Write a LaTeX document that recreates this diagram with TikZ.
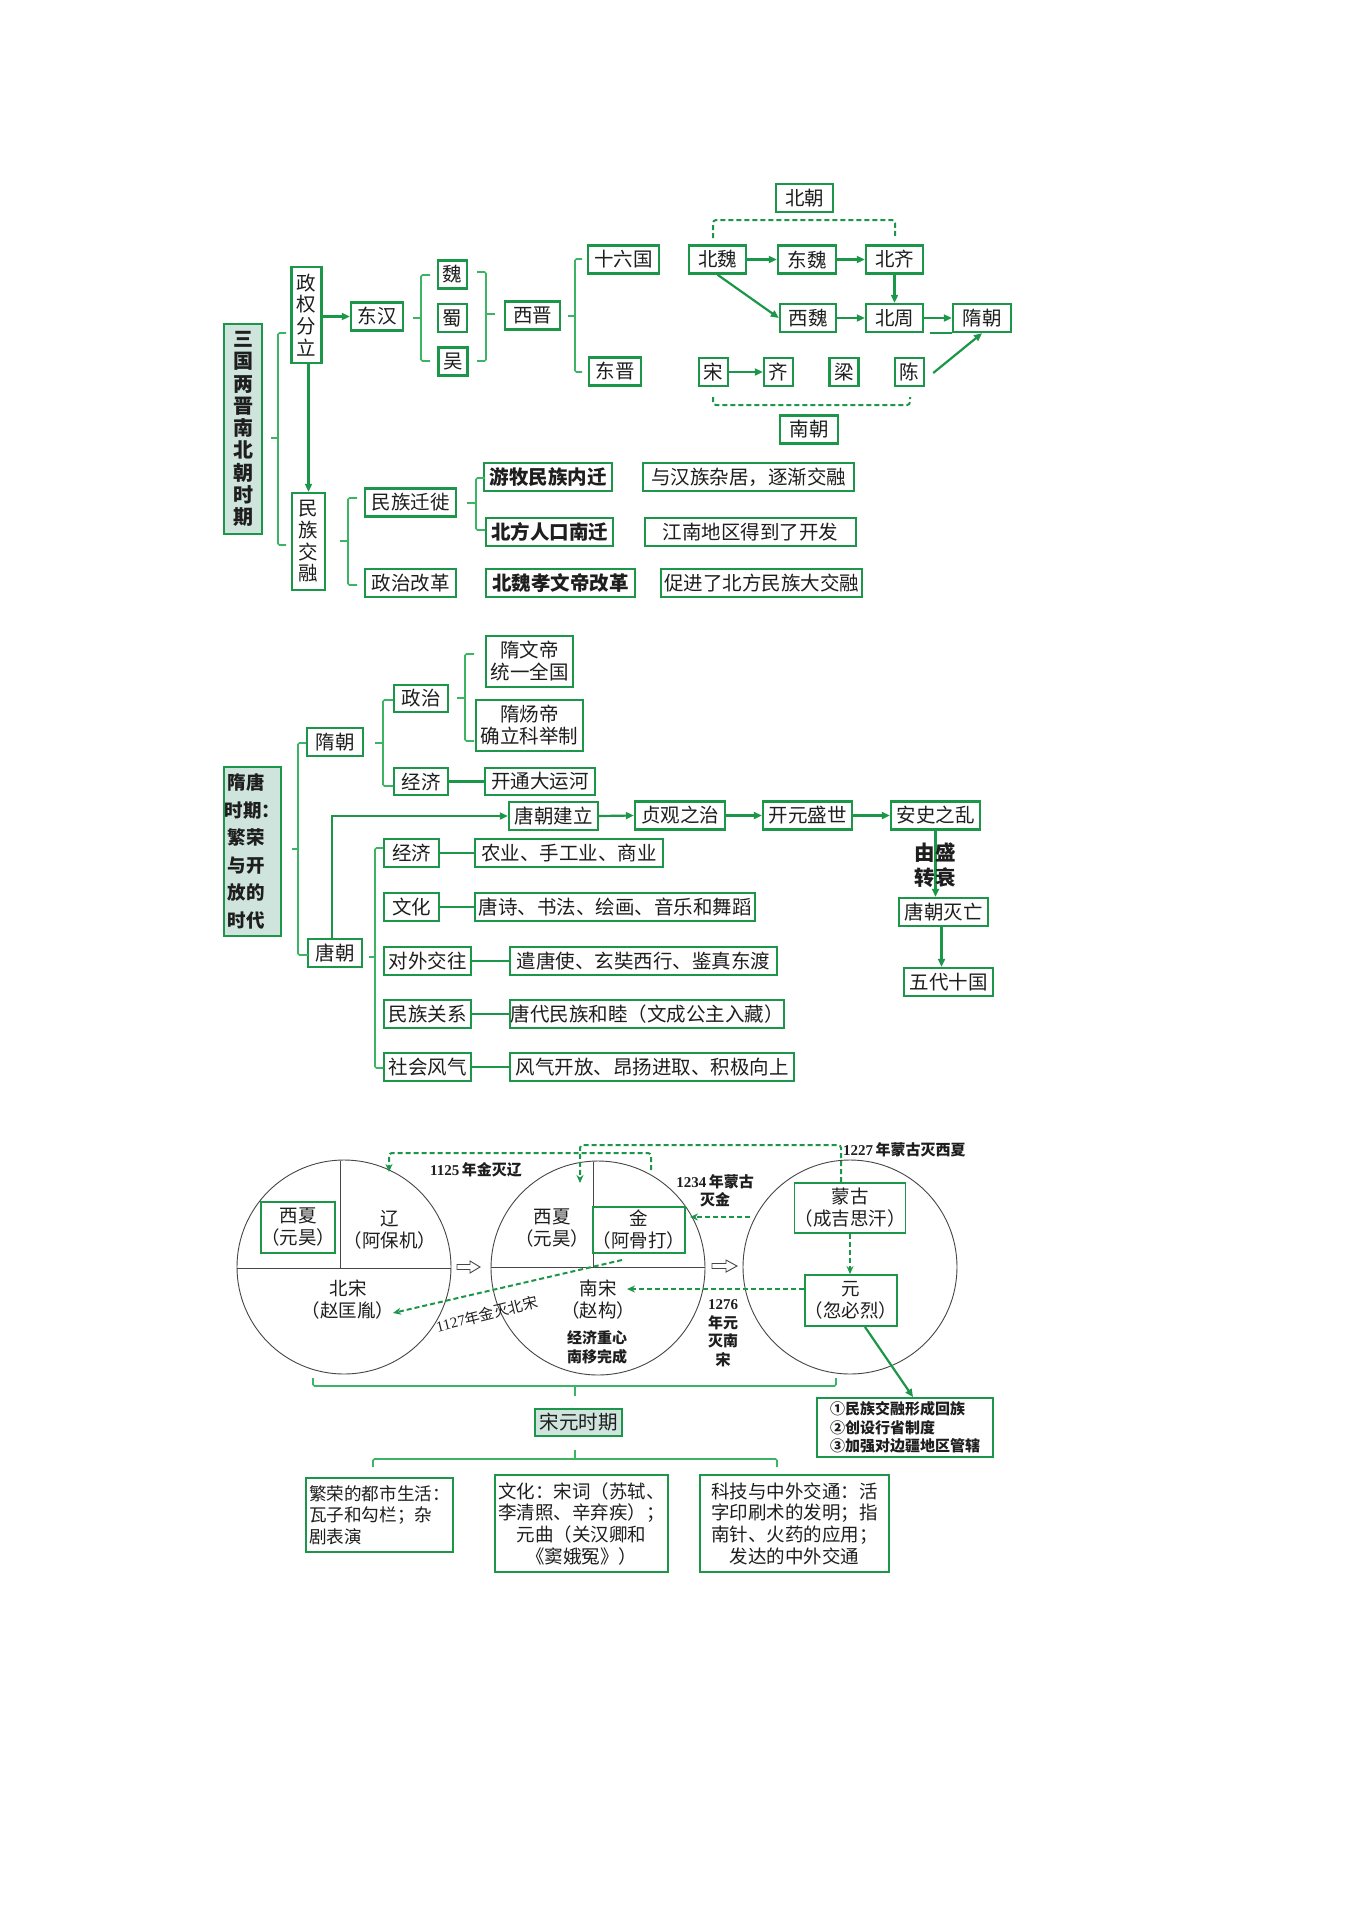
\documentclass[tikz,border=0pt]{standalone}
\usepackage{fontspec}
\setmainfont{Noto Sans CJK SC}
\newfontfamily\tnr{Liberation Serif}
\usetikzlibrary{arrows.meta}
\definecolor{gr}{RGB}{28,150,72}
\definecolor{gl}{RGB}{60,180,100}
\definecolor{tealf}{RGB}{206,228,220}
\definecolor{ink}{RGB}{30,30,30}
\definecolor{cline}{RGB}{70,70,70}
\newcommand\fA{\fontsize{19.5}{22}\selectfont}
\newcommand\fC{\fontsize{18.5}{22}\selectfont}
\newcommand\fB{\fontsize{18.5}{21.7}\selectfont}
\newcommand\fS{\fontsize{15}{18.5}\selectfont}
\begin{document}
\begin{tikzpicture}[x=1pt,y=-1pt,
  bx/.style={draw=gr, line width=2.4pt, fill=white, inner sep=0pt, text=ink, font=\fA, align=center},
  bbx/.style={bx, font=\fA\bfseries},
  tbx/.style={bx, fill=tealf},
  sbx/.style={bx, line width=1.9pt, font=\fC},
  br/.style={draw=gl, line width=1.6pt, rounded corners=1.5pt},
  ln/.style={draw=gr, line width=2.2pt},
  arr/.style={draw=gr, line width=2.2pt, -{Triangle[length=8pt,width=7pt]}},
  dsh/.style={draw=gr, line width=2pt, dash pattern=on 5pt off 3pt, rounded corners=3pt, -{Stealth[length=8pt,width=7pt]}},
  dln/.style={draw=gr, line width=2pt, dash pattern=on 5pt off 3pt, rounded corners=3pt},
  circ/.style={draw=cline, line width=0.9pt},
  txt/.style={inner sep=0pt, text=ink, font=\fC, align=center},
  lbl/.style={inner sep=0pt, text=ink, font=\fS\bfseries, align=center}
]
\fill[white] (0,0) rectangle (1362,1920);
\useasboundingbox (0,0) rectangle (1362,1920);

%================ Section 1 ================
\node[tbx, font=\fontsize{20}{22.3}\selectfont\bfseries, minimum width=38pt, minimum height=210pt] (t1) at (243,429) {三\\国\\两\\晋\\南\\北\\朝\\时\\期};
\node[bx, font=\fontsize{19.5}{21.7}\selectfont, minimum width=30pt, minimum height=96pt] (zq) at (306.5,315) {政\\权\\分\\立};
\node[bx, font=\fontsize{19.5}{21.7}\selectfont, minimum width=33pt, minimum height=97pt] (mz) at (308.5,541.5) {民\\族\\交\\融};
\node[bx, minimum width=52pt, minimum height=28pt] (dh) at (377,316.5) {东汉};
\node[bx, minimum width=29pt, minimum height=28pt] (wei) at (452.5,274.5) {魏};
\node[bx, minimum width=29pt, minimum height=28pt] (shu) at (452.5,318) {蜀};
\node[bx, minimum width=29pt, minimum height=28pt] (wu) at (453,361.5) {吴};
\node[bx, minimum width=55pt, minimum height=28pt] (xj) at (532.5,315.5) {西晋};
\node[bx, minimum width=71pt, minimum height=28pt] (sl) at (623.5,259.5) {十六国};
\node[bx, minimum width=52pt, minimum height=28pt] (dj) at (615,371.5) {东晋};
\node[bx, minimum width=57pt, minimum height=28pt] (bc) at (804.5,198) {北朝};
\node[bx, minimum width=57pt, minimum height=28pt] (bw) at (717.5,259.5) {北魏};
\node[bx, minimum width=58pt, minimum height=28pt] (dw) at (807,259.5) {东魏};
\node[bx, minimum width=57pt, minimum height=28pt] (bq) at (894.5,259.5) {北齐};
\node[bx, minimum width=56pt, minimum height=28pt] (xw) at (808,318) {西魏};
\node[bx, minimum width=57pt, minimum height=28pt] (bz) at (894.5,318) {北周};
\node[bx, minimum width=58pt, minimum height=28pt] (sc) at (982,318) {隋朝};
\node[bx, minimum width=29pt, minimum height=28pt] (song) at (713.5,372) {宋};
\node[bx, minimum width=29pt, minimum height=28pt] (qi) at (778.5,372) {齐};
\node[bx, minimum width=29pt, minimum height=28pt] (liang) at (844,372) {梁};
\node[bx, minimum width=29pt, minimum height=28pt] (chen) at (909.5,372) {陈};
\node[bx, minimum width=58pt, minimum height=28pt] (nc) at (809,429.5) {南朝};
\node[bx, minimum width=91pt, minimum height=28pt] (mzqx) at (410.5,502.5) {民族迁徙};
\node[bx, minimum width=91pt, minimum height=28pt] (zzgg) at (410.5,583) {政治改革};
\node[bbx, minimum width=128pt, minimum height=28pt] (ym) at (548,477) {游牧民族内迁};
\node[bbx, minimum width=127pt, minimum height=28pt] (bf) at (549.5,532) {北方人口南迁};
\node[bbx, minimum width=149pt, minimum height=28pt] (xwgg) at (560.5,583) {北魏孝文帝改革};
\node[bx, minimum width=211pt, minimum height=28pt] (r1) at (748.5,477) {与汉族杂居，逐渐交融};
\node[bx, minimum width=211pt, minimum height=28pt] (r2) at (750.5,532) {江南地区得到了开发};
\node[bx, minimum width=201pt, minimum height=28pt] (r3) at (761.5,583) {促进了北方民族大交融};

% braces
\draw[br] (286,333) -- (278,333) -- (278,545) -- (286,545);
\draw[br] (271,438) -- (278,438);
\draw[br] (430,275) -- (421,275) -- (421,361) -- (430,361);
\draw[br] (413,318) -- (421,318);
\draw[br] (477,272) -- (486,272) -- (486,361) -- (477,361);
\draw[br] (486,314) -- (495,314);
\draw[br] (582,259) -- (575,259) -- (575,372) -- (582,372);
\draw[br] (568,316) -- (575,316);
\draw[br] (357,498) -- (348,498) -- (348,585) -- (357,585);
\draw[br] (340,541) -- (348,541);
\draw[br] (485,478) -- (476,478) -- (476,530) -- (485,530);
\draw[br] (467,503) -- (476,503);

% arrows
\draw[arr] (zq.east |- dh.west) -- (dh.west);
\draw[arr] (mz.north |- zq.south) -- (mz.north);
\draw[arr] (bw.east) -- (dw.west);
\draw[arr] (dw.east) -- (bq.west);
\draw[arr] (bq.south) -- (bz.north);
\draw[arr] (bw.south) -- (xw.west);
\draw[arr] (xw.east) -- (bz.west);
\draw[arr] (bz.east) -- (sc.west);
\draw[ln] ([xshift=6pt]bz.south east) -- (sc.south west);
\draw[arr] (song.east) -- (qi.west);
\draw[arr] ([xshift=8pt,yshift=-1pt]chen.east) -- (sc.south);
\draw[dln] (713,238) -- (713,220) -- (895,220) -- (895,238);
\draw[dln] (713,397) -- (713,405) -- (910,405) -- (910,397);

%================ Section 2 ================
\node[tbx, font=\fontsize{18.5}{27.5}\selectfont\bfseries, align=left, minimum width=57pt, minimum height=169pt] (t2) at (252.5,851.5) {\hspace*{3pt}隋唐\\时期：\\\hspace*{3pt}繁荣\\\hspace*{3pt}与开\\\hspace*{3pt}放的\\\hspace*{3pt}时代};
\node[bx, minimum width=56pt, minimum height=28pt] (sui) at (335,742) {隋朝};
\node[bx, minimum width=54pt, minimum height=28pt] (tang) at (335,953) {唐朝};
\node[bx, minimum width=54pt, minimum height=27pt] (zz) at (421,698.5) {政治};
\node[bx, minimum width=54pt, minimum height=27pt] (jj1) at (421,781.5) {经济};
\node[bx, minimum width=87pt, minimum height=51pt] (swd) at (529.5,661.5) {隋文帝\\统一全国};
\node[bx, minimum width=107pt, minimum height=51pt] (syd) at (529.5,725.5) {隋炀帝\\确立科举制};
\node[bx, minimum width=110pt, minimum height=27pt] (ytd) at (540,781.5) {开通大运河};
\node[bx, minimum width=89pt, minimum height=28pt] (tcjl) at (553.5,816) {唐朝建立};
\node[bx, minimum width=90pt, minimum height=28pt] (zgzz) at (680,815.5) {贞观之治};
\node[bx, minimum width=89pt, minimum height=28pt] (kysh) at (807.5,815.5) {开元盛世};
\node[bx, minimum width=89pt, minimum height=28pt] (aszl) at (935.5,815.5) {安史之乱};
\node[bx, minimum width=89pt, minimum height=28pt] (tcmw) at (943.5,912) {唐朝灭亡};
\node[bx, minimum width=89pt, minimum height=28pt] (wdsg) at (948.5,982) {五代十国};
\node[bx, minimum width=55pt, minimum height=28pt] (tjj) at (411.5,853) {经济};
\node[bx, minimum width=188pt, minimum height=28pt] (nys) at (569,853) {农业、手工业、商业};
\node[bx, minimum width=55pt, minimum height=28pt] (twh) at (411.5,907) {文化};
\node[bx, minimum width=280pt, minimum height=28pt] (tsh) at (615,907) {唐诗、书法、绘画、音乐和舞蹈};
\node[bx, minimum width=87pt, minimum height=28pt] (dwjw) at (427.5,961) {对外交往};
\node[bx, minimum width=267pt, minimum height=28pt] (qts) at (643.5,961) {遣唐使、玄奘西行、鉴真东渡};
\node[bx, minimum width=87pt, minimum height=28pt] (mzgx) at (427.5,1014) {民族关系};
\node[bx, minimum width=274pt, minimum height=28pt] (tdmz) at (647,1014) {唐代民族和睦（文成公主入藏）};
\node[bx, minimum width=87pt, minimum height=28pt] (shfq) at (427.5,1067) {社会风气};
\node[bx, minimum width=284pt, minimum height=28pt] (fqkf) at (652,1067) {风气开放、昂扬进取、积极向上};

\draw[br] (306,743) -- (298,743) -- (298,955) -- (308,955);
\draw[br] (292,849) -- (298,849);
\draw[br] (393,700) -- (383,700) -- (383,786) -- (393,786);
\draw[br] (375,743) -- (383,743);
\draw[br] (474,654) -- (465,654) -- (465,741) -- (474,741);
\draw[br] (457,698) -- (465,698);
\draw[br] (383,848) -- (375,848) -- (375,1068) -- (383,1068);
\draw[br] (369,957) -- (375,957);

\draw[ln] (jj1.east) -- (ytd.west);
\draw[ln] (tjj.east) -- (nys.west);
\draw[ln] (twh.east) -- (tsh.west);
\draw[ln] (dwjw.east) -- (qts.west);
\draw[ln] (mzgx.east) -- (tdmz.west);
\draw[ln] (shfq.east) -- (fqkf.west);

\draw[arr] ([xshift=-3pt]tang.north) |- (tcjl.west);
\draw[arr] (tcjl.east) -- (zgzz.west);
\draw[arr] (zgzz.east) -- (kysh.west);
\draw[arr] (kysh.east) -- (aszl.west);
\draw[arr] (aszl.south) -- (aszl.south |- tcmw.north);
\draw[arr] ([xshift=-2pt]tcmw.south) -- ([xshift=-2pt]tcmw.south |- wdsg.north);
\node[txt, font=\fontsize{20.5}{25}\selectfont\bfseries] (ysz) at (935,865) {由盛\\转衰};

%================ Section 3 ================
\draw[circ] (344,1267) circle[radius=107pt];
\draw[circ] (598,1268) circle[radius=107pt];
\draw[circ] (850,1267) circle[radius=107pt];
\draw[circ] (237,1268) -- (451,1268);
\draw[circ] (340,1161) -- (340,1268);
\draw[circ] (491,1267) -- (705,1267);
\draw[circ] (593,1162) -- (593,1267);
\draw[circ] (457,1264.5) -- (470,1264.5) -- (470,1261) -- (480,1267) -- (470,1273) -- (470,1269.5) -- (457,1269.5) -- cycle;
\draw[circ] (712,1263.5) -- (726,1263.5) -- (726,1260) -- (737,1266) -- (726,1272) -- (726,1268.5) -- (712,1268.5) -- cycle;

\node[sbx, minimum width=70pt, minimum height=51pt] (xx1) at (298,1227.5) {西夏\\（元昊）};
\node[txt] (liao) at (390,1230) {辽\\（阿保机）};
\node[txt] (bs) at (348,1300) {北宋\\（赵匡胤）};
\node[txt] (xx2) at (552,1228) {西夏\\（元昊）};
\node[sbx, minimum width=84pt, minimum height=46pt] (jin) at (639,1230) {金\\（阿骨打）};
\node[txt] (ns) at (598,1300) {南宋\\（赵构）};
\node[lbl, font=\fontsize{15}{19}\selectfont\bfseries] (jjzx) at (597,1347) {经济重心\\南移完成};
\node[sbx, minimum width=110pt, minimum height=50pt] (mg) at (850,1208) {蒙古\\（成吉思汗）};
\node[sbx, minimum width=88pt, minimum height=51pt] (yuan) at (851,1300.5) {元\\（忽必烈）};
\node[sbx, minimum width=176pt, minimum height=59pt, align=left, font=\fontsize{15}{18.7}\selectfont\bfseries] (res) at (905,1427.5) {①民族交融形成回族\\②创设行省制度\\③加强对边疆地区管辖};

% dashed events
\coordinate (a1) at (651,1170);
\coordinate (a1e) at (389,1172);
\draw[dsh] (a1) -- (651,1153) -- (389,1153) -- (a1e);
\coordinate (a2) at (841,1182);
\coordinate (a2e) at (580,1183);
\draw[dsh] (a2) -- (841,1145) -- (580,1145) -- (a2e);
\coordinate (a3) at (750,1217);
\coordinate (a3e) at (690,1217);
\draw[dsh] (a3) -- (a3e);
\coordinate (a4e) at (627,1289);
\draw[dsh] (yuan.west |- a4e) -- (a4e);
\coordinate (a5) at (622,1260);
\coordinate (a5e) at (393,1313);
\draw[dsh] (a5) -- (a5e);
\draw[dsh] (mg.south) -- (mg.south |- yuan.north);
\draw[arr] ([xshift=14pt]yuan.south) -- ([xshift=8pt]res.north);

\node[lbl] (l1125) at (476,1170) {{\tnr\bfseries 1125}\,年金灭辽};
\node[lbl, anchor=west] (l1227) at (843,1150) {{\tnr\bfseries 1227}\,年蒙古灭西夏};
\node[lbl, font=\fontsize{15}{18}\selectfont\bfseries] (l1234) at (715,1191) {{\tnr\bfseries 1234}\,年蒙古\\灭金};
\node[lbl, font=\fontsize{15}{18.5}\selectfont\bfseries] (l1276) at (723,1333) {{\tnr\bfseries 1276}\\年元\\灭南\\宋};
\node[inner sep=0pt, text=ink, font=\fS, rotate=14] (l1127) at (487,1314) {{\tnr 1127}年金灭北宋};

% bottom brackets
\draw[br] (313,1378) -- (313,1386) -- (836,1386) -- (836,1378);
\draw[br] (575,1386) -- (575,1396);
\node[tbx, minimum width=87pt, minimum height=27pt] (syq) at (578.5,1422.5) {宋元时期};
\draw[br] (575,1450) -- (575,1459);
\draw[br] (373,1467) -- (373,1459) -- (777,1459) -- (777,1467);
\node[bx, font=\fontsize{17.6}{21.7}\selectfont, align=left, minimum width=147pt, minimum height=74pt] (b1) at (379.5,1515) {繁荣的都市生活：\\瓦子和勾栏；杂\\剧表演};
\node[bx, font=\fB, minimum width=173pt, minimum height=97pt] (b2) at (581.5,1523.5) {文化：宋词（苏轼、\\李清照、辛弃疾）；\\元曲（关汉卿和\\《窦娥冤》）};
\node[bx, font=\fB, minimum width=189pt, minimum height=97pt] (b3) at (794.5,1523.5) {科技与中外交通：活\\字印刷术的发明；指\\南针、火药的应用；\\发达的中外交通};
\end{tikzpicture}
\end{document}
